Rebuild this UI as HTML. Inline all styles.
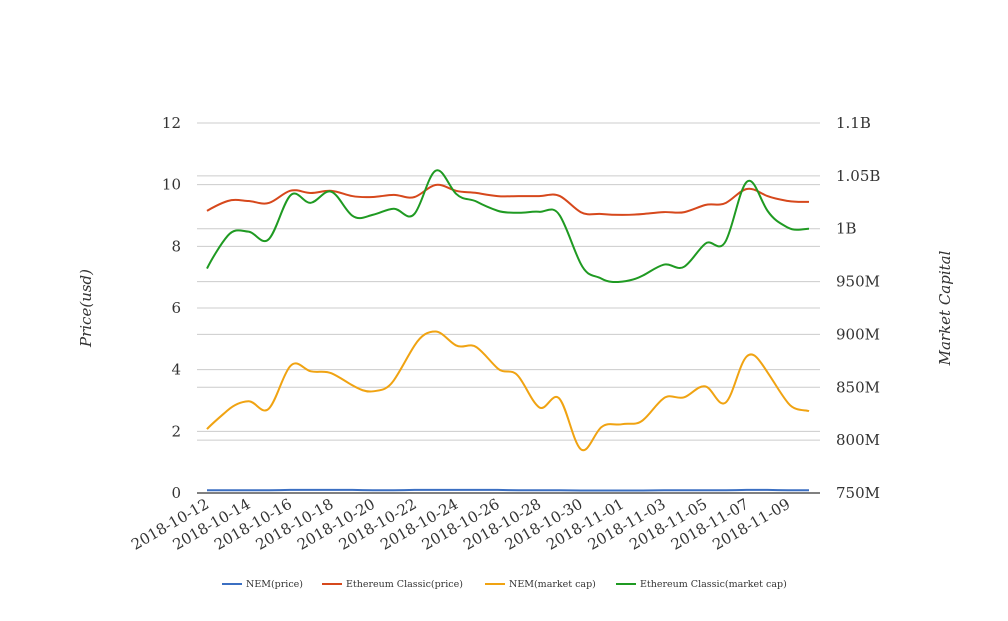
<!DOCTYPE html>
<html><head><meta charset="utf-8"><style>
body{margin:0;background:#fff;width:1008px;height:616px;overflow:hidden}
svg text{font-family:"DejaVu Serif","Liberation Serif",serif;fill:#333}
</style></head><body>
<svg id="chart" width="1008" height="616" xmlns="http://www.w3.org/2000/svg">
<g id="grid"></g>
<g id="axes"></g>
<g id="series"></g>
<text transform="translate(91,308) rotate(-90)" text-anchor="middle" font-size="15" font-style="italic">Price(usd)</text>
<text transform="translate(950,308) rotate(-90)" text-anchor="middle" font-size="15" font-style="italic">Market Capital</text>
<g id="legend"></g>
</svg>
<script>
const dates=["2018-10-12","2018-10-13","2018-10-14","2018-10-15","2018-10-16","2018-10-17","2018-10-18","2018-10-19","2018-10-20","2018-10-21","2018-10-22","2018-10-23","2018-10-24","2018-10-25","2018-10-26","2018-10-27","2018-10-28","2018-10-29","2018-10-30","2018-10-31","2018-11-01","2018-11-02","2018-11-03","2018-11-04","2018-11-05","2018-11-06","2018-11-07","2018-11-08","2018-11-09","2018-11-10"];
const nemPrice=[0.09,0.09,0.09,0.09,0.1,0.1,0.1,0.1,0.09,0.09,0.1,0.1,0.1,0.1,0.1,0.09,0.09,0.09,0.08,0.08,0.08,0.08,0.09,0.09,0.09,0.09,0.1,0.1,0.09,0.09];
const etcPrice=[9.15,9.47,9.47,9.41,9.80,9.73,9.80,9.63,9.60,9.67,9.60,9.99,9.80,9.73,9.63,9.63,9.63,9.63,9.11,9.05,9.02,9.05,9.11,9.11,9.34,9.41,9.86,9.63,9.47,9.44];
const nemCap=[810.4,828.3,836.8,830.2,869.8,865.1,863.2,851.9,846.2,856.6,889.6,902.8,889.6,887.7,867.9,860.4,831.1,838.7,791.5,812.3,815.1,818.9,839.6,840.6,850.9,835.8,879.2,864.2,834.9,827.4];
const etcCap=[962.3,993.4,997.2,990.6,1031.1,1024.5,1034.9,1012.3,1013.2,1018.9,1014.2,1054.7,1033.0,1025.5,1017.0,1015.1,1016.0,1012.3,967.0,952.8,950.0,955.7,966.0,964.2,985.8,988.7,1044.3,1017.0,1000.9,1000.0];
const leftTicks=[0,2,4,6,8,10,12];
const rightTicks=[750,800,850,900,950,1000,1050,1100];
const rightTickLabels=["750M","800M","850M","900M","950M","1B","1.05B","1.1B"];
const legendNames=["NEM(price)","Ethereum Classic(price)","NEM(market cap)","Ethereum Classic(market cap)"];

const NS="http://www.w3.org/2000/svg";
const X0=197,X1=820,Y0=493,Y1=123,PX0=207,PX1=809;
const xs=i=>PX0+(PX1-PX0)*i/(dates.length-1);
const yl=v=>Y0-(v-0)/(12-0)*(Y0-Y1);
const yr=v=>Y0-(v-750)/(1100-750)*(Y0-Y1);
function mk(tag,attrs,parent){const e=document.createElementNS(NS,tag);for(const k in attrs)e.setAttribute(k,attrs[k]);parent.appendChild(e);return e;}
const grid=document.getElementById('grid'),axes=document.getElementById('axes'),ser=document.getElementById('series'),leg=document.getElementById('legend');
leftTicks.forEach(t=>{const y=yl(t);
 if(t>0){const l=mk('line',{x1:X0,x2:X1,y1:y,y2:y,stroke:'#ccc','stroke-width':1},grid);
 
 }
 const tx=mk('text',{x:181,y:y+5,'text-anchor':'end','font-size':15},axes);tx.textContent=t;
 
 });
rightTicks.forEach((t,i)=>{const y=yr(t);
 if(i>0){const l=mk('line',{x1:X0,x2:X1,y1:y,y2:y,stroke:'#ccc','stroke-width':1},grid);
 
 }
 const tx=mk('text',{x:836,y:y+5,'font-size':15},axes);tx.textContent=rightTickLabels[i];
 
 });
const ax=mk('line',{x1:X0,x2:X1,y1:Y0,y2:Y0,stroke:'#000','stroke-width':1},axes);


dates.forEach((d,i)=>{if(i%2)return;const x=xs(i);
 const tx=mk('text',{transform:`translate(${x+3},${Y0+14}) rotate(-30)`,'text-anchor':'end','font-size':15},axes);tx.textContent=d;
 
 });
function smooth(pts){let d=`M${pts[0][0]},${pts[0][1]}`;const t=0.35;
 for(let i=0;i<pts.length-1;i++){const p0=pts[i-1]||pts[i],p1=pts[i],p2=pts[i+1],p3=pts[i+2]||p2;
  const c1=[p1[0]+(p2[0]-p0[0])*t/2*1,p1[1]+(p2[1]-p0[1])*t/2*1.3],c2=[p2[0]-(p3[0]-p1[0])*t/2*1,p2[1]-(p3[1]-p1[1])*t/2*1.3];
  d+=` C${c1[0]},${c1[1]} ${c2[0]},${c2[1]} ${p2[0]},${p2[1]}`;}return d;}
const colors=["#3b6fc2","#d6481c","#f0a312","#1f9a22"];
const seriesDefs=[[nemPrice,yl,'nem-price-line'],[etcPrice,yl,'etc-price-line'],[nemCap,yr,'nem-market-cap-line'],[etcCap,yr,'etc-market-cap-line']];
seriesDefs.forEach(([arr,f,name],k)=>{const p=mk('path',{d:smooth(arr.map((v,i)=>[xs(i),f(v)])),fill:'none',stroke:colors[k],'stroke-width':2},ser);
 
 });
const lx=[222,322,485,616];
legendNames.forEach((n,k)=>{const g=mk('g',{},leg);
 
 
 mk('line',{x1:lx[k],x2:lx[k]+20,y1:584,y2:584,stroke:colors[k],'stroke-width':2},g);
 const tx=mk('text',{x:lx[k]+24,y:587,'font-size':9.5},g);tx.textContent=n;});
</script>
</body></html>
